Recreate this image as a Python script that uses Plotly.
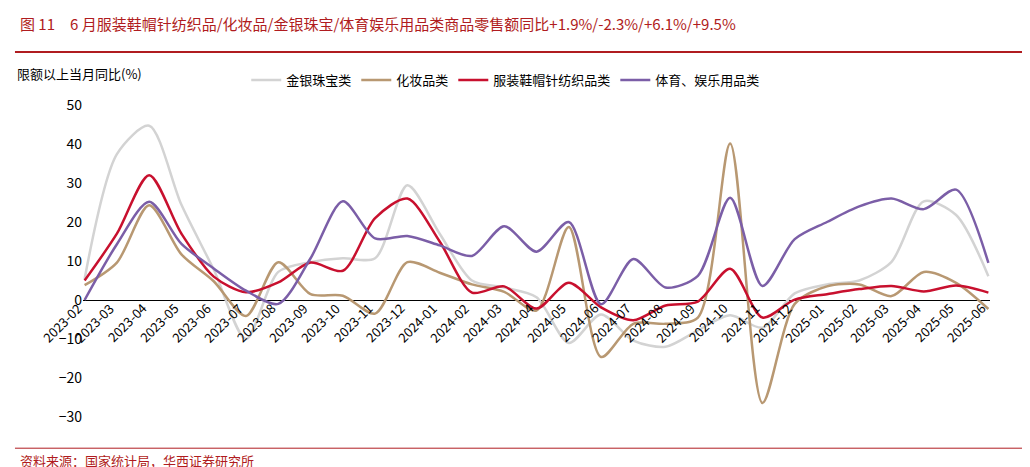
import plotly.graph_objects as go

months = ["2023-02", "2023-03", "2023-04", "2023-05", "2023-06", "2023-07", "2023-08", "2023-09",
          "2023-10", "2023-11", "2023-12", "2024-01", "2024-02", "2024-03", "2024-04", "2024-05",
          "2024-06", "2024-07", "2024-08", "2024-09", "2024-10", "2024-11", "2024-12", "2025-01",
          "2025-02", "2025-03", "2025-04", "2025-05", "2025-06"]

clothing = [5.0, 17.0, 32.0, 17.0, 6.0, 2.0, 4.5, 9.6, 7.5, 21.0, 26.0, 15.0, 1.9, 3.5, -2.2,
            4.4, -1.9, -5.2, -1.4, -0.4, 8.0, -4.5, 0.1, 1.5, 2.8, 3.6, 2.2, 3.7, 1.9]
cosmetics = [3.8, 9.6, 24.3, 11.7, 4.8, -4.1, 9.7, 1.5, 1.1, -3.5, 9.7, 7.0, 4.0, 2.1, -2.7,
             18.7, -14.6, -6.1, -6.1, -4.5, 40.1, -26.4, -1.0, 3.5, 4.0, 1.0, 7.2, 4.4, -2.3]
jewelry = [5.4, 37.4, 44.7, 24.4, 7.8, -10.0, 7.2, 9.7, 10.7, 10.7, 29.4, 17.0, 5.0, 3.2, 0.7,
           -11.0, -3.7, -10.4, -12.0, -7.8, -3.9, -7.1, 1.7, 4.0, 5.0, 9.8, 25.3, 21.8, 6.1]
sports = [0.0, 14.3, 25.2, 14.4, 8.1, 2.4, -1.0, 10.7, 25.3, 15.8, 16.4, 14.0, 11.3, 18.9, 12.4,
          20.0, -1.1, 10.5, 3.2, 6.2, 26.2, 3.6, 15.6, 20.0, 24.0, 26.0, 23.3, 28.3, 9.5]

series = [
    ("服装鞋帽针纺织品类", clothing, "#c8102e"),
    ("化妆品类", cosmetics, "#b89872"),
    ("金银珠宝类", jewelry, "#d3d3d3"),
    ("体育、娱乐用品类", sports, "#7b5ea7"),
]

font = "Noto Sans CJK SC"
fig = go.Figure()
# gold first so it sits underneath
for name, vals, color in [series[2], series[1], series[0], series[3]]:
    fig.add_trace(go.Scatter(x=months, y=vals, name=name, mode="lines",
                             line=dict(color=color, width=2.5, shape="spline", smoothing=0.8)))

for m in months:
    fig.add_annotation(x=m, y=0, text=m, showarrow=False, textangle=-45,
                       xanchor="right", yanchor="top", xshift=4, yshift=4,
                       font=dict(size=13, color="#000", family=font))

fig.add_annotation(xref="paper", yref="paper", x=-0.075, y=1.1, text="限额以上当月同比(%)",
                   showarrow=False, xanchor="left", yanchor="middle",
                   font=dict(size=13, color="#000", family=font))
fig.add_annotation(xref="paper", yref="paper", x=-0.072, y=1.26,
                   text="图 11　6 月服装鞋帽针纺织品/化妆品/金银珠宝/体育娱乐用品类商品零售额同比+1.9%/-2.3%/+6.1%/+9.5%",
                   showarrow=False, xanchor="left", yanchor="middle",
                   font=dict(size=15, color="#b01c20", family=font))
fig.add_annotation(xref="paper", yref="paper", x=-0.072, y=-0.14, text="资料来源：国家统计局，华西证券研究所",
                   showarrow=False, xanchor="left", yanchor="middle",
                   font=dict(size=13, color="#b01c20", family=font))
fig.add_shape(type="line", xref="paper", yref="paper", x0=-0.075, x1=1.05, y0=1.17, y1=1.17,
              line=dict(color="#b01c20", width=2))
fig.add_shape(type="line", xref="paper", yref="paper", x0=-0.075, x1=1.05, y0=-0.1, y1=-0.1,
              line=dict(color="#b01c20", width=1))

fig.update_layout(
    width=1030, height=467, plot_bgcolor="white", paper_bgcolor="white",
    margin=dict(l=75, r=48, t=97, b=58),
    font=dict(family=font, size=14, color="#000"),
    legend=dict(orientation="h", x=0.18, y=1.08, xanchor="left", yanchor="middle",
                font=dict(size=13), traceorder="normal"),
    xaxis=dict(type="category", showticklabels=False, showgrid=False, zeroline=False,
               range=[-0.05, 28.05], categoryorder="array", categoryarray=months),
    yaxis=dict(range=[-30, 50], dtick=10, showgrid=False, zeroline=True, zerolinecolor="#000",
               zerolinewidth=1, showline=False, ticks="", tickfont=dict(size=14)),
)
fig.write_html("out.html")
